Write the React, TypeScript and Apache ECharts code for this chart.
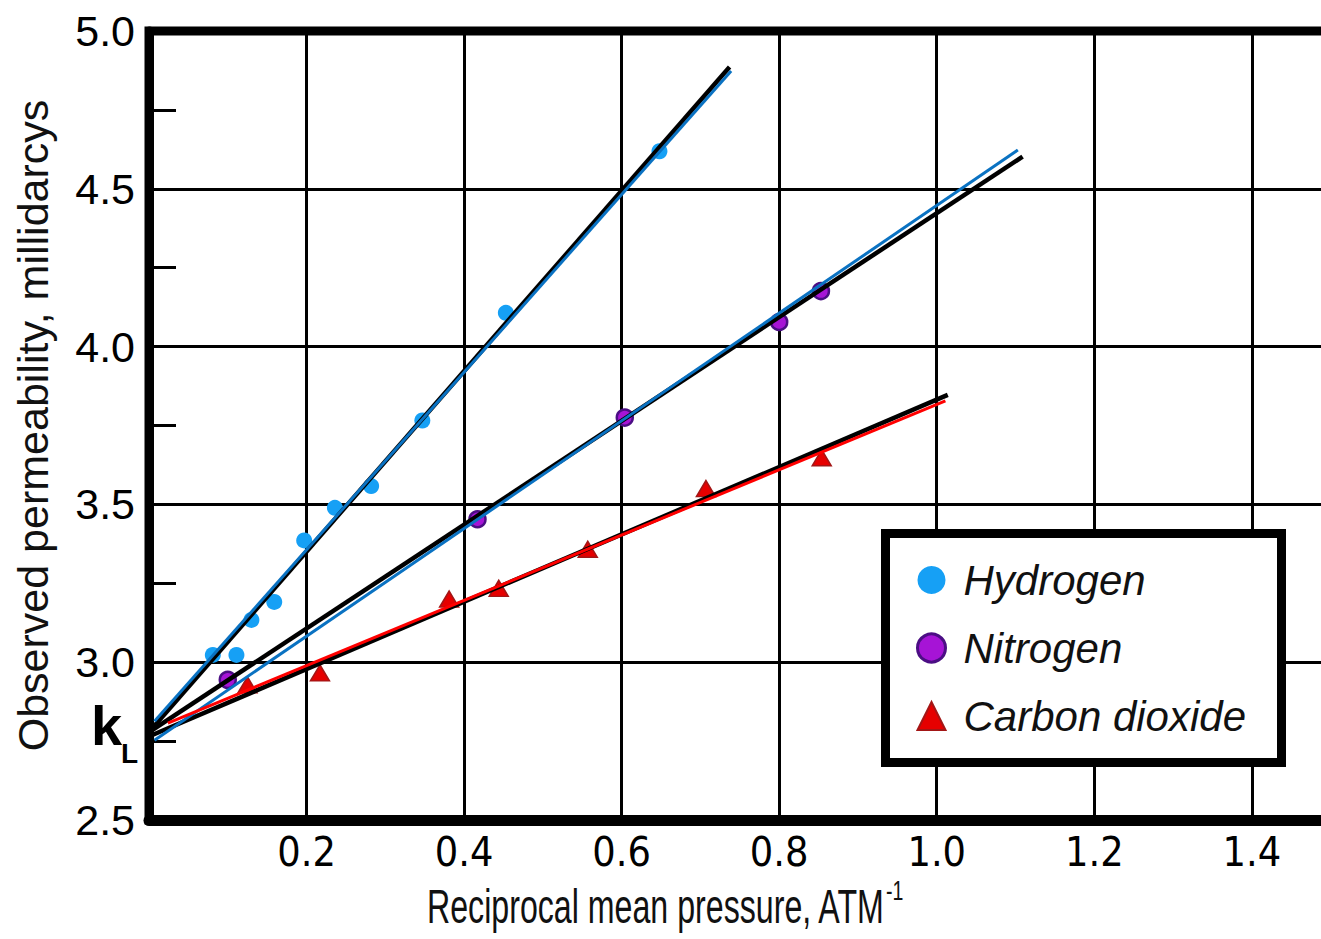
import React, { useEffect, useRef } from "react";
import * as echarts from "echarts";

// Measured data (reciprocal mean pressure, observed permeability)
const hydrogenX = [0.081, 0.111, 0.130, 0.159, 0.197, 0.236, 0.282, 0.347, 0.453, 0.648];
const hydrogenY = [3.023, 3.023, 3.134, 3.191, 3.386, 3.489, 3.558, 3.766, 4.107, 4.619];
const nitrogenX = [0.100, 0.417, 0.604, 0.800, 0.853];
const nitrogenY = [2.944, 3.453, 3.775, 4.078, 4.176];
const co2X = [0.125, 0.217, 0.381, 0.444, 0.557, 0.707, 0.854];
const co2Y = [2.928, 2.966, 3.200, 3.234, 3.358, 3.550, 3.648];

// Fitted straight lines (two end points each): a black and a coloured stroke per gas
const hydrogenBlackX = [0.005, 0.737];
const hydrogenBlackY = [2.793, 4.886];
const hydrogenBlueX = [0.007, 0.739];
const hydrogenBlueY = [2.813, 4.873];
const nitrogenBlackX = [0.005, 1.109];
const nitrogenBlackY = [2.786, 4.602];
const nitrogenBlueX = [0.007, 1.103];
const nitrogenBlueY = [2.753, 4.623];
const co2BlackX = [0.005, 1.014];
const co2BlackY = [2.770, 3.847];
const co2RedX = [0.024, 1.011];
const co2RedY = [2.807, 3.828];

const legendNames = ["Hydrogen", "Nitrogen", "Carbon dioxide"];
const xTitle = "Reciprocal mean pressure, ATM";
const xTitleSup = "-1";
const yTitle = "Observed permeability, millidarcys";

const zip = (xs: number[], ys: number[]) => xs.map((x, i) => [x, ys[i]]);

const NARROW = "'Liberation Sans Narrow', 'Arial Narrow', 'DejaVu Sans Condensed', 'Liberation Sans', Arial, sans-serif";
const SANS = "'Liberation Sans', Arial, sans-serif";

const H_COLOR = "#16a0f5";
const N_FILL = "#a614d6";
const N_BORDER = "#4b0e84";
const C_FILL = "#e60000";
const C_BORDER = "#a31616";
const BLUE_LINE = "#0a72c2";
const RED_LINE = "#ff0000";

function fitLine(name: string, xs: number[], ys: number[], color: string, width: number, z: number) {
  return {
    name,
    type: "line",
    data: zip(xs, ys),
    symbol: "none",
    silent: true,
    z,
    lineStyle: { color, width, cap: "butt" },
  };
}

export default function App() {
  const ref = useRef<HTMLDivElement>(null);
  useEffect(() => {
    const chart = echarts.init(ref.current!, null, { renderer: "svg" });
    const option: any = {
      animation: false,
      backgroundColor: "#fff",
      grid: {
        left: 149,
        top: 31,
        width: 1181.6,
        height: 789,
        outerBoundsMode: "none",
        containLabel: false,
        show: true,
        borderColor: "#000",
        borderWidth: 9,
        backgroundColor: "transparent",
      },
      xAxis: {
        type: "value",
        min: 0,
        max: 1.5,
        interval: 0.2,
        axisLine: { show: true, onZero: false, lineStyle: { color: "#000", width: 11 } },
        axisTick: { show: false },
        splitLine: { show: true, lineStyle: { color: "#000", width: 3 } },
        axisLabel: {
          showMinLabel: false,
          showMaxLabel: false,
          margin: 11,
          color: "#000",
          fontSize: 41,
          fontFamily: NARROW,
          formatter: (v: number) => v.toFixed(1),
        },
      },
      yAxis: {
        type: "value",
        min: 2.5,
        max: 5.0,
        interval: 0.5,
        name: yTitle,
        nameLocation: "middle",
        nameGap: 95,
        nameTextStyle: { color: "#111", fontSize: 43, fontFamily: SANS },
        axisLine: { show: true, onZero: false, lineStyle: { color: "#000", width: 9 } },
        axisTick: { show: false, inside: true },
        minorTick: { show: true, splitNumber: 2, length: 27, lineStyle: { color: "#000", width: 3 } },
        splitLine: { show: true, lineStyle: { color: "#000", width: 3 } },
        axisLabel: {
          margin: 14,
          color: "#000",
          fontSize: 43,
          fontFamily: SANS,
          formatter: (v: number) => v.toFixed(1),
        },
      },
      legend: {
        orient: "vertical",
        left: 911,
        top: 554,
        itemWidth: 28,
        itemHeight: 28,
        itemGap: 26,
        z: 20,
        textStyle: {
          fontSize: 42,
          fontStyle: "italic",
          color: "#111",
          fontFamily: SANS,
          lineHeight: 41,
          padding: [0, 0, 0, 13],
        },
        data: [
          { name: legendNames[0], itemStyle: { color: H_COLOR, borderWidth: 0 } },
          { name: legendNames[1], itemStyle: { color: N_FILL, borderColor: N_BORDER, borderWidth: 3 } },
          { name: legendNames[2], itemStyle: { color: C_FILL, borderColor: C_BORDER, borderWidth: 2 } },
        ],
      },
      graphic: [
        {
          type: "rect",
          z: 10,
          shape: { x: 885.5, y: 533.5, width: 396, height: 229 },
          style: { fill: "#fff", stroke: "#000", lineWidth: 9 },
        },
        {
          type: "text",
          z: 10,
          x: 427,
          y: 907,
          scaleX: 0.67,
          style: { text: xTitle, x: 0, y: 0, fill: "#111", font: `48px ${SANS}`, textAlign: "left", textVerticalAlign: "middle" },
        },
        {
          type: "text",
          z: 10,
          x: 886,
          y: 890,
          scaleX: 0.7,
          style: { text: xTitleSup, x: 0, y: 0, fill: "#111", font: `28px ${SANS}`, textAlign: "left", textVerticalAlign: "middle" },
        },
        {
          type: "text",
          z: 10,
          style: { text: "k", x: 91, y: 725, fill: "#000", font: `bold 56px ${SANS}`, textAlign: "left", textVerticalAlign: "middle" },
        },
        {
          type: "text",
          z: 10,
          style: { text: "L", x: 121, y: 753, fill: "#000", font: `bold 28px ${SANS}`, textAlign: "left", textVerticalAlign: "middle" },
        },
      ],
      series: [
        {
          name: legendNames[0],
          type: "scatter",
          data: zip(hydrogenX, hydrogenY),
          symbol: "circle",
          symbolSize: 16,
          z: 2,
          itemStyle: { color: H_COLOR, opacity: 1 },
        },
        {
          name: legendNames[1],
          type: "scatter",
          data: zip(nitrogenX, nitrogenY),
          symbol: "circle",
          symbolSize: 16,
          z: 2,
          itemStyle: { color: N_FILL, borderColor: N_BORDER, borderWidth: 2.5, opacity: 1 },
        },
        {
          name: legendNames[2],
          type: "scatter",
          data: zip(co2X, co2Y),
          symbol: "triangle",
          symbolSize: [19, 16],
          z: 2,
          itemStyle: { color: C_FILL, borderColor: C_BORDER, borderWidth: 1.5, opacity: 1 },
        },
        fitLine("Hydrogen fit (black)", hydrogenBlackX, hydrogenBlackY, "#000", 4.5, 3),
        fitLine("Nitrogen fit (black)", nitrogenBlackX, nitrogenBlackY, "#000", 4.5, 3),
        fitLine("Carbon dioxide fit (black)", co2BlackX, co2BlackY, "#000", 4.5, 3),
        fitLine("Hydrogen fit", hydrogenBlueX, hydrogenBlueY, BLUE_LINE, 3, 4),
        fitLine("Nitrogen fit", nitrogenBlueX, nitrogenBlueY, BLUE_LINE, 3, 4),
        fitLine("Carbon dioxide fit", co2RedX, co2RedY, RED_LINE, 3, 4),
      ],
    };
    chart.setOption(option);
    return () => chart.dispose();
  }, []);
  return (
    <div
      ref={ref}
      style={{ position: "absolute", left: 0, top: 0, width: 1321, height: 939, background: "#fff" }}
    />
  );
}
